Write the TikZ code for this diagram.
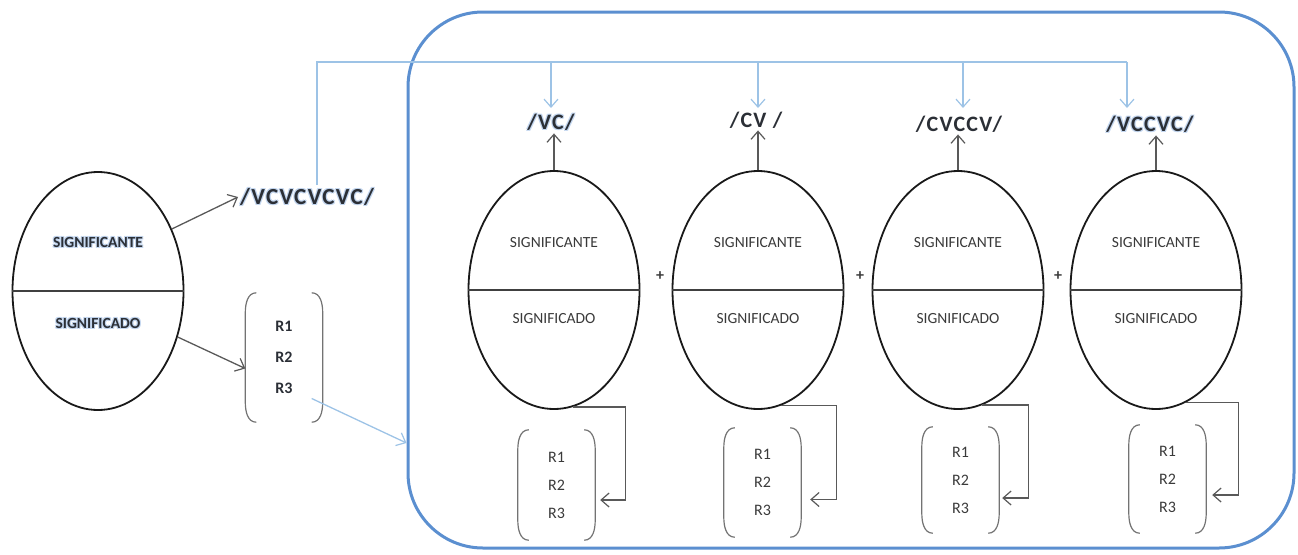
\documentclass[tikz,border=0pt]{standalone}
\usepackage{fontspec}
\setmainfont{Carlito}
\newfontfamily\spaced[LetterSpace=6]{Carlito}
\usetikzlibrary{arrows.meta,calc,shapes.geometric}

\definecolor{frameblue}{HTML}{5B8FD0}
\definecolor{linkblue}{HTML}{9DC3E6}
\definecolor{glow}{HTML}{C3D6EF}
\definecolor{ink}{HTML}{2B2F36}
\definecolor{soft}{HTML}{3A3A3A}

% text with a pale blue halo behind it
\newcommand\glowtxt[1]{%
  \rlap{\color{glow}\kern1pt\raisebox{-1pt}{#1}}%
  \rlap{\color{glow}\kern-1pt\raisebox{1pt}{#1}}%
  \rlap{\color{glow}\kern1pt\raisebox{1pt}{#1}}%
  \rlap{\color{glow}\kern-1pt\raisebox{-1pt}{#1}}%
  #1}

% round brackets around a list node
\newcommand\parens[1]{%
  \draw[paren] ([xshift=11pt]#1.north west) to[out=180,in=90] ([yshift=-20pt]#1.north west)
     -- ([yshift=20pt]#1.south west) to[out=-90,in=180] ([xshift=11pt]#1.south west);
  \draw[paren] ([xshift=-11pt]#1.north east) to[out=0,in=90] ([yshift=-20pt]#1.north east)
     -- ([yshift=20pt]#1.south east) to[out=-90,in=0] ([xshift=-11pt]#1.south east);}

\begin{document}
\begin{tikzpicture}[x=1pt,y=-1pt,
  sign/.style={draw=black!90, line width=1.8pt, ellipse, minimum width=171pt,
               minimum height=238pt, inner sep=0pt},
  divline/.style={draw=black!75, line width=1.3pt},
  intext/.style={text=soft, font=\fontsize{15.5}{17}\selectfont},
  lefttext/.style={text=ink, font=\bfseries\fontsize{15.5}{17}\selectfont},
  rlist/.style={align=center, minimum width=77pt, inner sep=0pt, text=soft,
                font=\fontsize{16}{28}\selectfont},
  paren/.style={draw=black!55, line width=1.2pt},
  form/.style={text=ink, font=\spaced\bfseries\fontsize{22}{24}\selectfont, inner sep=2pt},
  gline/.style={draw=black!65, line width=1.3pt},
  tip/.style={-{Straight Barb[length=8pt,width=14pt,line width=1.2pt]}},
  blink/.style={draw=linkblue, line width=1.3pt},
  plus/.style={text=soft, font=\bfseries\fontsize{16}{17}\selectfont, inner sep=0pt}]
\useasboundingbox (0,0) rectangle (1298,554);

% frame around the decomposed word
\node[draw=frameblue, line width=3pt, rounded corners=75pt, minimum width=886pt,
      minimum height=536pt, inner sep=0pt] (frame) at (851,280) {};

% whole word sign
\node[sign] (L) at (98,291) {};
\draw[divline] (L.west) -- (L.east);
\node[lefttext] (Lt) at (98,242) {\glowtxt{SIGNIFICANTE}};
\node[lefttext] (Lb) at (98,323) {\glowtxt{SIGNIFICADO}};
\node[form, font=\spaced\bfseries\fontsize{23}{24}\selectfont, anchor=west] (w) at (238,197) {\glowtxt{/VCVCVCVC/}};
\node[rlist, text=ink, font=\bfseries\fontsize{16}{31}\selectfont, minimum height=129pt] (b0) at (284,357.5) {R1\\R2\\R3};
\parens{b0}
\draw[gline, tip] (L.40) -- (w.west);
\draw[gline, tip] (L.-30) -- ([yshift=-11pt]b0.west);
\draw[blink, tip] ([xshift=-11pt,yshift=-41pt]b0.east) -- ([yshift=-163pt]frame.west);

% component signs
\foreach \i/\x in {1/554, 2/758, 3/958, 4/1156} {
  \node[sign] (e\i) at (\x,290) {};
  \draw[divline] (e\i.west) -- (e\i.east);
  \node[intext] (e\i t) at (\x,243) {SIGNIFICANTE};
  \node[intext] (e\i b) at (\x,319) {SIGNIFICADO};
}
\node[plus] (p1) at (660,276) {+};
\node[plus] (p2) at (860,276) {+};
\node[plus] (p3) at (1058,276) {+};

% syllable forms
\node[form] (t1) at (551,122) {\glowtxt{/VC/}};
\node[form] (t2) at (756,120) {/CV /};
\node[form] (t3) at (959,124) {/CVCCV/};
\node[form] (t4) at (1150,124) {\glowtxt{/VCCVC/}};
\foreach \i in {1,...,4} { \draw[gline, tip] (e\i.north) -- (e\i.north |- t\i.south); }

% distribution of the whole form
\coordinate (bus) at (1127,62);
\draw[blink] (w.north -| 317,0) |- (bus);
\foreach \i/\x in {1/551, 2/758, 3/963, 4/1127} {
  \draw[blink, tip] (\x,62) -- (\x,108);
}

% meaning lists of the components
\node[rlist, minimum height=110pt] (b1) at (556.5,485) {R1\\R2\\R3};
\node[rlist, minimum height=109pt] (b2) at (762.5,482.5) {R1\\R2\\R3};
\node[rlist, minimum height=106pt] (b3) at (960.5,480) {R1\\R2\\R3};
\node[rlist, minimum height=108pt] (b4) at (1167.5,479) {R1\\R2\\R3};
\foreach \i in {1,...,4} { \parens{b\i} }
\draw[gline, tip] (e1.-81) -| ($(b1.east)+(30,15)$) -- ($(b1.east)+(5,15)$);
\draw[gline, tip] (e2.-79) -| ($(b2.east)+(35,17)$) -- ($(b2.east)+(9,17)$);
\draw[gline, tip] (e3.-78) -| ($(b3.east)+(29,18)$) -- ($(b3.east)+(3,18)$);
\draw[gline, tip] (e4.-75) -| ($(b4.east)+(32,16)$) -- ($(b4.east)+(6,16)$);
\end{tikzpicture}
\end{document}
